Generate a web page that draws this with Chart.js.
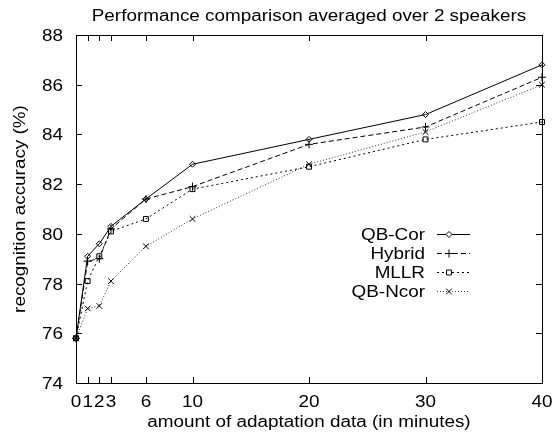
<!DOCTYPE html>
<html>
<head>
<meta charset="utf-8">
<script src="https://cdn.jsdelivr.net/npm/chart.js@4/dist/chart.umd.min.js"></script>
<style>
  html, body { margin: 0; padding: 0; background: #fff; }
  #wrap { width: 554px; height: 432px; }
</style>
</head>
<body>
<div id="wrap"><canvas id="chart"></canvas></div>
<script>
// data
const minutes = [0, 1, 2, 3, 6, 10, 20, 30, 40];
const qbCor  = [75.8, 79.1, 79.6, 80.3, 81.4, 82.8, 83.8, 84.8, 86.8];
const hybrid = [75.8, 78.9, 79.0, 80.2, 81.4, 81.9, 83.6, 84.3, 86.3];
const mllr   = [75.8, 78.1, 79.1, 80.1, 80.6, 81.8, 82.7, 83.8, 84.5];
const qbNcor = [75.8, 77.0, 77.1, 78.1, 79.5, 80.6, 82.8, 84.1, 86.0];
const yTicks = [74, 76, 78, 80, 82, 84, 86, 88];

const titleText = 'Performance comparison averaged over 2 speakers';
const xTitle = 'amount of adaptation data (in minutes)';
const yTitle = 'recognition accuracy (%)';

const FONT = '16px "Liberation Sans", Arial, Helvetica, sans-serif';
const SX = 1.18; // the old postscript text is a bit wide

function pts(vals) {
  return minutes.map((m, i) => ({ x: m, y: vals[i] }));
}

const series = [
  { label: 'QB-Cor',  data: pts(qbCor),  dash: [],     style: 'rectRot',  r: 3,   color: '#000' },
  { label: 'Hybrid',  data: pts(hybrid), dash: [5, 3], style: 'cross',    r: 4,   color: '#000' },
  { label: 'MLLR',    data: pts(mllr),   dash: [2, 3], style: 'rect',     r: 3.5, color: '#000' },
  { label: 'QB-Ncor', data: pts(qbNcor), dash: [1, 2], style: 'crossRot', r: 4,   color: '#333' }
];

// wide text helper
function wideText(ctx, txt, x, y, align, rot) {
  ctx.save();
  ctx.translate(x, y);
  if (rot) ctx.rotate(rot);
  ctx.scale(SX, 1);
  ctx.textAlign = align;
  ctx.textBaseline = 'alphabetic';
  ctx.fillText(txt, 0, 0);
  ctx.restore();
}

// gnuplot-like frame, inward ticks on all four sides, and the texts
const frame = {
  id: 'frame',
  afterDraw(chart) {
    const { ctx, chartArea: a, scales } = chart;
    ctx.save();
    ctx.strokeStyle = '#000';
    ctx.lineWidth = 1;
    ctx.beginPath();
    minutes.forEach(m => {
      const x = Math.round(scales.x.getPixelForValue(m)) + 0.5;
      ctx.moveTo(x, a.bottom); ctx.lineTo(x, a.bottom - 6);
      ctx.moveTo(x, a.top); ctx.lineTo(x, a.top + 6);
    });
    yTicks.forEach(v => {
      const y = Math.round(scales.y.getPixelForValue(v)) + 0.5;
      ctx.moveTo(a.left, y); ctx.lineTo(a.left + 6, y);
      ctx.moveTo(a.right, y); ctx.lineTo(a.right - 6, y);
    });
    ctx.stroke();
    ctx.strokeRect(a.left + 0.5, a.top + 0.5, a.right - a.left, a.bottom - a.top);

    ctx.fillStyle = '#000';
    ctx.font = FONT;
    const cx = (a.left + a.right) / 2;
    wideText(ctx, titleText, cx, 21, 'center');
    minutes.forEach(m => {
      wideText(ctx, String(m), scales.x.getPixelForValue(m), a.bottom + 24, 'center');
    });
    wideText(ctx, xTitle, cx, a.bottom + 44, 'center');
    yTicks.forEach(v => {
      wideText(ctx, String(v), a.left - 13, scales.y.getPixelForValue(v) + 6, 'right');
    });
    wideText(ctx, yTitle, 25, (a.top + a.bottom) / 2, 'center', -Math.PI / 2);
    ctx.restore();
  }
};

// key: text right aligned, then line sample with marker
const keyBox = {
  id: 'keyBox',
  afterDraw(chart) {
    const { ctx } = chart;
    ctx.save();
    ctx.font = FONT;
    series.forEach((s, i) => {
      const y = 234 + i * 19;
      ctx.fillStyle = '#000';
      wideText(ctx, s.label, 425, y + 6, 'right');
      ctx.strokeStyle = s.color;
      ctx.lineWidth = 1;
      ctx.setLineDash(s.dash);
      ctx.beginPath();
      ctx.moveTo(437, y + 0.5); ctx.lineTo(470, y + 0.5);
      ctx.stroke();
      ctx.setLineDash([]);
      ctx.strokeStyle = '#000';
      ctx.fillStyle = '#fff';
      Chart.helpers.drawPoint(ctx, {
        pointStyle: s.style, radius: s.r, borderWidth: 1
      }, 449, y + 0.5);
    });
    ctx.restore();
  }
};

new Chart(document.getElementById('chart'), {
  type: 'line',
  data: {
    datasets: series.map(s => ({
      label: s.label,
      data: s.data,
      borderColor: s.color,
      borderWidth: 1,
      borderDash: s.dash,
      pointStyle: s.style,
      pointRadius: s.r,
      pointBorderWidth: 1,
      pointBorderColor: '#000',
      pointBackgroundColor: 'rgba(0,0,0,0)',
      tension: 0,
      fill: false,
      clip: false
    }))
  },
  options: {
    responsive: true,
    maintainAspectRatio: false,
    animation: false,
    layout: { padding: { top: 35, right: 12, left: 0, bottom: 0 } },
    plugins: {
      legend: { display: false },
      tooltip: { enabled: false },
      title: { display: false }
    },
    scales: {
      x: {
        type: 'linear',
        min: 0, max: 40,
        afterBuildTicks(axis) { axis.ticks = minutes.map(v => ({ value: v })); },
        afterFit(axis) { axis.height = 49; },
        grid: { display: false, drawTicks: false },
        border: { display: false },
        ticks: { display: false }
      },
      y: {
        min: 74, max: 88,
        afterBuildTicks(axis) { axis.ticks = yTicks.map(v => ({ value: v })); },
        afterFit(axis) { axis.width = 76; },
        grid: { display: false, drawTicks: false },
        border: { display: false },
        ticks: { display: false }
      }
    }
  },
  plugins: [frame, keyBox]
});
</script>
</body>
</html>
